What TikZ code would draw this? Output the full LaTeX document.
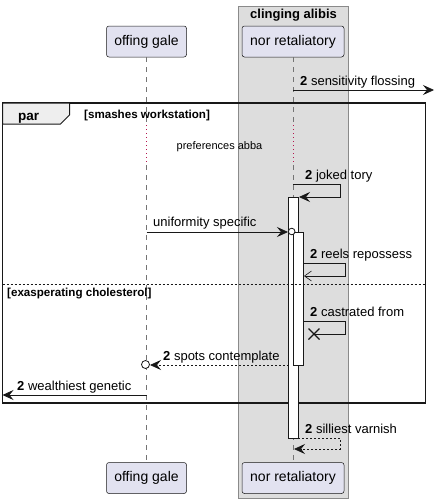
\documentclass[tikz,border=0pt]{standalone}
\usepackage{fontspec}
\setmainfont{Liberation Sans}
\usetikzlibrary{arrows.meta,calc}
\definecolor{partfill}{HTML}{E2E2F0}
\definecolor{boxfill}{HTML}{DDDDDD}
\definecolor{ink}{HTML}{181818}
\definecolor{boxline}{HTML}{8A8A8A}
\definecolor{tabfill}{HTML}{EEEEEE}
\definecolor{delaycol}{HTML}{B5164F}
\begin{document}
\begin{tikzpicture}[x=1pt,y=-1pt,
  partbox/.style={draw=ink, fill=partfill, rounded corners=2.5pt, minimum height=31pt, inner sep=0pt, font=\fontsize{14}{16}\selectfont, line width=0.5pt},
  lifeline/.style={draw=ink!60, dash pattern=on 5pt off 5pt, line width=0.6pt},
  delayline/.style={draw=delaycol, dash pattern=on 1pt off 3pt, line width=0.9pt},
  msgline/.style={draw=ink, line width=0.8pt},
  dashmsg/.style={draw=ink, line width=0.8pt, dash pattern=on 2pt off 2pt},
  tip/.style={-{Stealth[length=11pt,width=10pt,inset=4pt]}},
  opentip/.style={-{Straight Barb[length=7pt,width=10pt,line width=0.6pt]}},
  msglabel/.style={anchor=base west, inner sep=0pt, font=\fontsize{13}{15}\selectfont},
  actbox/.style={draw=ink, fill=white, line width=0.8pt},
  grplabel/.style={anchor=base west, inner sep=0pt, font=\bfseries\fontsize{11.6}{13}\selectfont},
]
\useasboundingbox (0,0) rectangle (435,504);
\fill[white] (0,0) rectangle (435,504);

% group box
\draw[draw=boxline, fill=boxfill, line width=0.8pt] (238,6) rectangle (348,498);
\node[font=\bfseries\fontsize{13}{15}\selectfont, inner sep=0pt] (boxtitle) at (293.5,15) {clinging alibis};

% participants
\node[partbox, minimum width=80pt] (og) at (146.5,41.5) {offing gale};
\node[partbox, minimum width=102pt] (nr) at (293,41.5) {nor retaliatory};
\node[partbox, minimum width=80pt] (ogb) at (146.5,478) {offing gale};
\node[partbox, minimum width=102pt] (nrb) at (293,478) {nor retaliatory};

% lifelines
\coordinate (ogd1) at (146.5,125);
\coordinate (ogd2) at (146.5,165);
\coordinate (nrd1) at (293,125);
\coordinate (nrd2) at (293,165);
\draw[lifeline] (og.south) -- (ogd1);
\draw[delayline] (ogd1) -- (ogd2);
\draw[lifeline] (ogd2) -- (ogb.north);
\draw[lifeline] (nr.south) -- (nrd1);
\draw[delayline] (nrd1) -- (nrd2);
\draw[lifeline] (nrd2) -- (nrb.north);

% message 1
\coordinate (m1a) at (293,90);
\coordinate (m1b) at (434,90);
\draw[msgline, tip] (m1a) -- (m1b);
\node[msglabel] (l1) at (300,85) {\textbf{2} sensitivity flossing};

% par frame
\draw[line width=1.5pt, draw=ink] (2.5,103) rectangle (425.5,403);
\draw[line width=1pt, draw=ink, fill=tabfill] (2.5,103) -- (69.5,103) -- (69.5,115) -- (60.5,124) -- (2.5,124) -- cycle;
\node[anchor=base west, inner sep=0pt, font=\bfseries\fontsize{13.5}{15}\selectfont] (partitle) at (18,120) {par};
\node[grplabel] (g1) at (84,118) {[smashes workstation]};
\node[anchor=base, inner sep=0pt, font=\fontsize{11}{13}\selectfont] (delay) at (219.5,149) {preferences abba};

% activation boxes
\draw[actbox] (288.5,197) rectangle (298,438);
\draw[actbox] (293,232) rectangle (303,365);

% joked tory
\coordinate (j1) at (293,184);
\coordinate (j2) at (340,184);
\coordinate (j3) at (340,197);
\coordinate (j4) at (299,197);
\draw[msgline, tip] (j1) -- (j2) -- (j3) -- (j4);
\node[msglabel] (l2) at (305,179) {\textbf{2} joked tory};

% uniformity specific
\coordinate (u1) at (146.5,232);
\coordinate (u2) at (288,232);
\draw[msgline, tip] (u1) -- (u2);
\draw[draw=ink, fill=white, line width=0.8pt] (291.7,231.5) circle (3.3pt);
\node[msglabel] (l3) at (153,226) {uniformity specific};

% reels repossess
\coordinate (r1) at (303,263);
\coordinate (r2) at (345,263);
\coordinate (r3) at (345,276);
\coordinate (r4) at (304,276);
\draw[draw=ink, line width=0.6pt, opentip] (r1) -- (r2) -- (r3) -- (r4);
\node[msglabel] (l4) at (310,258) {\textbf{2} reels repossess};

% separator
\coordinate (s1) at (2.5,284);
\coordinate (s2) at (425.5,284);
\draw[draw=ink, line width=0.7pt, dash pattern=on 2pt off 2pt] (s1) -- (s2);
\node[grplabel] (g2) at (7,296) {[exasperating cholesterol]};

% castrated from
\coordinate (c1) at (303,321);
\coordinate (c2) at (345,321);
\coordinate (c3) at (345,334);
\coordinate (c4) at (314,334);
\draw[msgline] (c1) -- (c2) -- (c3) -- (c4);
\draw[draw=ink, line width=1.3pt] ($(c4)+(-5.5,-5.5)$) -- ($(c4)+(5.5,5.5)$);
\draw[draw=ink, line width=1.3pt] ($(c4)+(-5.5,5.5)$) -- ($(c4)+(5.5,-5.5)$);
\node[msglabel] (l5) at (310,316) {\textbf{2} castrated from};

% spots contemplate
\coordinate (sp1) at (288.5,365);
\coordinate (sp2) at (150,365);
\draw[dashmsg, tip] (sp1) -- (sp2);
\draw[draw=ink, fill=white, line width=0.8pt] (145.5,364.5) circle (4pt);
\node[msglabel] (l6) at (163,360) {\textbf{2} spots contemplate};

% wealthiest genetic
\coordinate (w1) at (146.5,395);
\coordinate (w2) at (2.5,395);
\draw[msgline, tip] (w1) -- (w2);
\node[msglabel] (l7) at (17,390) {\textbf{2} wealthiest genetic};

% silliest varnish
\coordinate (v1) at (298,438);
\coordinate (v2) at (340,438);
\coordinate (v3) at (340,449);
\coordinate (v4) at (294,449);
\draw[dashmsg, tip] (v1) -- (v2) -- (v3) -- (v4);
\node[msglabel] (l8) at (305,433) {\textbf{2} silliest varnish};
\end{tikzpicture}
\end{document}
